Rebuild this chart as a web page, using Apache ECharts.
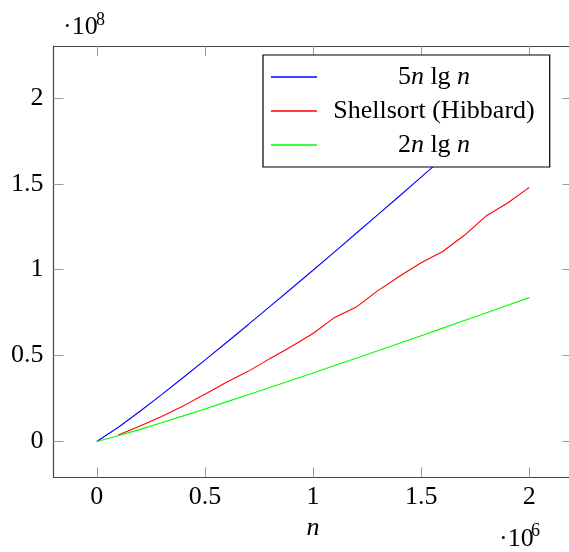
<!DOCTYPE html>
<html>
<head>
<meta charset="utf-8">
<script src="https://cdn.jsdelivr.net/npm/echarts@6/dist/echarts.min.js"></script>
<style>
  html, body { margin: 0; padding: 0; background: #fff; }
  #chart { width: 569px; height: 552px; }
</style>
</head>
<body>
<div id="chart"></div>
<script>
// n values (step 1e5)
const nValues = [0, 1e5, 2e5, 3e5, 4e5, 5e5, 6e5, 7e5, 8e5, 9e5, 1e6,
  1.1e6, 1.2e6, 1.3e6, 1.4e6, 1.5e6, 1.6e6, 1.7e6, 1.8e6, 1.9e6, 2e6];
// 5 n lg n
const fiveNlgN = [0, 8.30e6, 17.61e6, 27.29e6, 37.22e6, 47.33e6, 57.58e6, 67.96e6,
  78.44e6, 89.02e6, 99.66e6, 110.4e6, 121.2e6, 132.0e6, 142.9e6, 153.9e6,
  164.9e6, 176.0e6, 187.1e6, 198.2e6, 209.3e6];
// 2 n lg n
const twoNlgN = [0, 3.32e6, 7.04e6, 10.92e6, 14.89e6, 18.93e6, 23.03e6, 27.18e6,
  31.38e6, 35.61e6, 39.86e6, 44.15e6, 48.46e6, 52.80e6, 57.16e6, 61.54e6,
  65.96e6, 70.38e6, 74.82e6, 79.28e6, 83.72e6];
// Shellsort (Hibbard), measured from n = 1e5
const shellN = nValues.slice(1);
const shellHibbard = [3.8e6, 9.0e6, 14.5e6, 20.7e6, 27.5e6, 34.5e6, 40.8e6, 48.2e6,
  55.3e6, 62.8e6, 72.2e6, 78.2e6, 87.8e6, 96.2e6, 104.0e6, 110.6e6,
  120.0e6, 131.2e6, 138.8e6, 147.9e6];

const xTicks = [0, 5e5, 1e6, 1.5e6, 2e6];
const yTicks = [0, 0.5e8, 1e8, 1.5e8, 2e8];

const FONT = 'Liberation Serif';

function pairs(xs, ys) {
  return xs.map((x, i) => [x, ys[i]]);
}

let chart = echarts.init(document.getElementById('chart'));

let axisLine = { show: true, onZero: false, lineStyle: { color: '#444', width: 1.2 } };
let axisTick = { show: true, inside: true, length: 10, lineStyle: { color: '#999', width: 1 } };

chart.setOption({
  animation: false,
  grid: { left: 53.5, top: 46, width: 519, height: 431.4, containLabel: false, outerBoundsMode: 'none' },
  legend: {
    orient: 'vertical',
    left: 263,
    top: 55,
    width: 298,
    padding: [9, 15, 9, 8],
    itemGap: 8,
    itemWidth: 46,
    itemHeight: 1.3,
    icon: 'rect',
    backgroundColor: '#fff',
    borderColor: '#000',
    borderWidth: 1.2,
    borderRadius: 0,
    z: 10,
    data: ['5n lg n', 'Shellsort (Hibbard)', '2n lg n'],
    formatter: function (name) {
      if (name === '5n lg n') return '{c|5}{i|n}{c| lg }{i|n}';
      if (name === '2n lg n') return '{c|2}{i|n}{c| lg }{i|n}';
      return '{c|' + name + '}';
    },
    textStyle: {
      width: 224,
      fontFamily: FONT,
      fontSize: 26,
      color: '#000',
      rich: {
        c: { fontFamily: FONT, fontSize: 26, lineHeight: 26, align: 'center', color: '#000' },
        i: { fontFamily: FONT, fontSize: 26, lineHeight: 26, fontStyle: 'italic', align: 'center', color: '#000' }
      }
    }
  },
  xAxis: [{
    type: 'value',
    min: -2e5,
    max: 2.2e6,
    position: 'bottom',
    name: 'n',
    nameLocation: 'middle',
    nameGap: 36,
    nameTextStyle: { fontFamily: FONT, fontSize: 26, fontStyle: 'italic', color: '#000' },
    axisLine: axisLine,
    axisTick: Object.assign({ customValues: xTicks }, axisTick),
    axisLabel: {
      customValues: xTicks,
      margin: 7,
      fontFamily: FONT, fontSize: 26, color: '#000',
      formatter: v => String(v / 1e6)
    },
    splitLine: { show: false }
  }, {
    type: 'value',
    min: -2e5,
    max: 2.2e6,
    position: 'top',
    axisLine: axisLine,
    axisTick: Object.assign({ customValues: xTicks }, axisTick),
    axisLabel: { show: false },
    splitLine: { show: false }
  }],
  yAxis: [{
    type: 'value',
    min: -0.2093e8,
    max: 2.302e8,
    position: 'left',
    axisLine: axisLine,
    axisTick: Object.assign({ customValues: yTicks }, axisTick),
    axisLabel: {
      customValues: yTicks,
      margin: 10,
      fontFamily: FONT, fontSize: 26, color: '#000',
      formatter: v => String(v / 1e8)
    },
    splitLine: { show: false }
  }, {
    type: 'value',
    min: -0.2093e8,
    max: 2.302e8,
    position: 'right',
    axisLine: axisLine,
    axisTick: Object.assign({ customValues: yTicks }, axisTick),
    axisLabel: { show: false },
    splitLine: { show: false }
  }],
  graphic: [
    { type: 'text', left: 63, top: 14, style: { text: '·10', font: '26px "Liberation Serif"', fill: '#000' } },
    { type: 'text', left: 96, top: 11, style: { text: '8', font: '18px "Liberation Serif"', fill: '#000' } },
    { type: 'text', left: 499, top: 526, style: { text: '·10', font: '26px "Liberation Serif"', fill: '#000' } },
    { type: 'text', left: 531, top: 522, style: { text: '6', font: '18px "Liberation Serif"', fill: '#000' } }
  ],
  series: [
    {
      name: '5n lg n', type: 'line', showSymbol: false, symbol: 'none',
      data: pairs(nValues, fiveNlgN),
      lineStyle: { color: '#0000ff', width: 1.1 }, itemStyle: { color: '#0000ff' }
    },
    {
      name: 'Shellsort (Hibbard)', type: 'line', showSymbol: false, symbol: 'none',
      data: pairs(shellN, shellHibbard),
      lineStyle: { color: '#ff0000', width: 1.1 }, itemStyle: { color: '#ff0000' }
    },
    {
      name: '2n lg n', type: 'line', showSymbol: false, symbol: 'none',
      data: pairs(nValues, twoNlgN),
      lineStyle: { color: '#00ff00', width: 1.1 }, itemStyle: { color: '#00ff00' }
    }
  ]
});

window.addEventListener('resize', function () {
  chart.resize();
});
</script>
</body>
</html>
